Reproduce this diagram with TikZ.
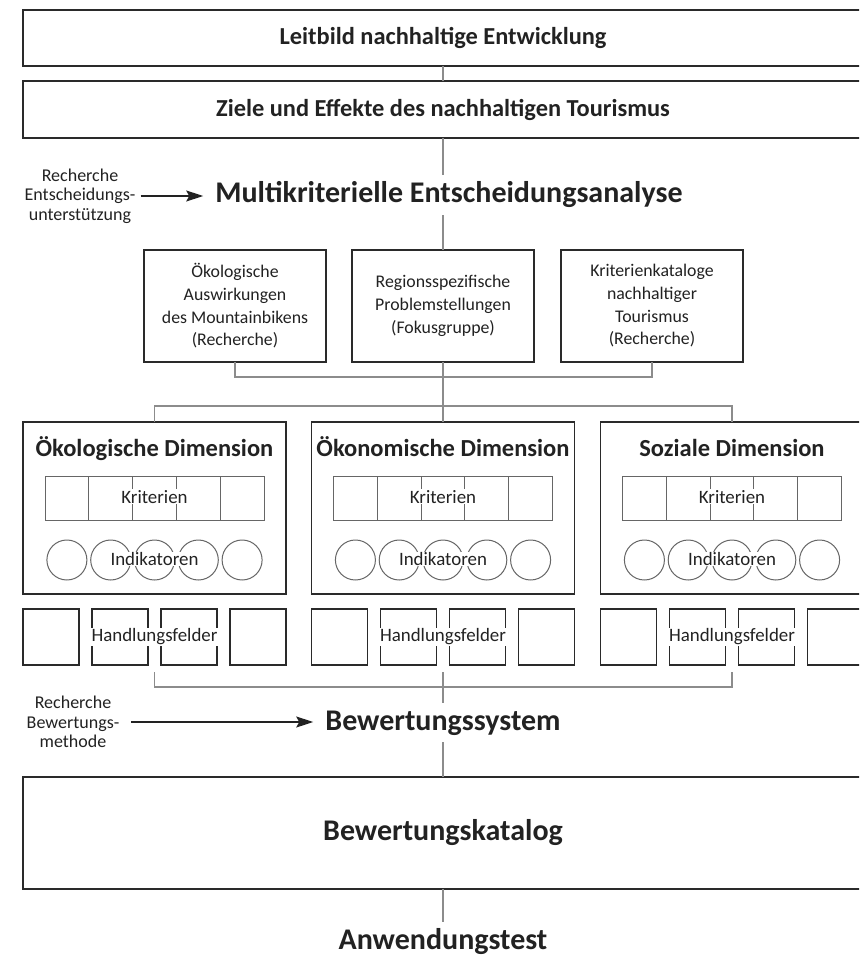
\documentclass[tikz,border=0pt]{standalone}
\usepackage{fontspec}
\setmainfont{Carlito}
\usetikzlibrary{arrows.meta}
\definecolor{ink}{HTML}{222222}
\definecolor{frame}{HTML}{2A2A2A}
\definecolor{conngray}{HTML}{8C8C8C}
\definecolor{cellgray}{HTML}{666666}
\newcommand\topfont{\fontsize{24.4}{28}\selectfont\bfseries}
\newcommand\bigfont{\fontsize{30}{35}\selectfont\bfseries}
\newcommand\dimfont{\fontsize{24.5}{29}\selectfont\bfseries}
\newcommand\regfont{\fontsize{18.9}{22}\selectfont}
\newcommand\boxfont{\fontsize{17.8}{22.7}\selectfont}
\newcommand\sidefont{\fontsize{18}{19.5}\selectfont}
\newcommand\dimblk[3]{%
  \node[box, minimum width=263pt, minimum height=172pt] (#2) at (#1,508) {};
  \node[font=\dimfont, anchor=base, text=ink] (#2t) at (#1,456) {#3};
  \foreach \i/\n in {-2/a,-1/b,0/c,1/d,2/e}{
    \node[cell, minimum width=43.8pt, minimum height=44pt] (#2k\n) at ({#1+\i*43.8},498) {};
    \node[cell, circle, minimum size=40pt] (#2i\n) at ({#1+\i*43.8},560) {};
  }
  \node[lbl] (#2kt) at (#1,503) {Kriterien};
  \node[lbl] (#2it) at (#1,565.5) {Indikatoren};
  \foreach \j/\n in {-1.5/a,-0.5/b,0.5/c,1.5/d}{
    \node[box, minimum size=56pt] (#2h\n) at ({#1+\j*69},637) {};
  }
  \node[lbl] (#2ht) at (#1,641.5) {Handlungsfelder};
}
\begin{document}
\begin{tikzpicture}[x=1pt,y=-1pt,
  box/.style={draw=frame, line width=1.4pt, inner sep=0pt, outer sep=0pt},
  cell/.style={draw=cellgray, line width=1pt, inner sep=0pt, outer sep=0pt},
  lbl/.style={font=\regfont, text=ink, fill=white, inner sep=0.8pt, anchor=base},
  conn/.style={draw=conngray, line width=1.1pt},
  arr/.style={draw=ink, line width=1.2pt, -{Stealth[length=17pt,width=11pt,inset=3pt]}},
  side/.style={font=\sidefont, text=ink, align=center, inner sep=2pt}]
\useasboundingbox (0,0) rectangle (859,957);
\clip (0,0) rectangle (859,957);
\fill[white] (0,0) rectangle (859,957);

% top boxes
\node[box, minimum width=840pt, minimum height=56pt, font=\topfont, text=ink] (leit) at (443,38) {Leitbild nachhaltige Entwicklung};
\node[box, minimum width=840pt, minimum height=57pt, font=\topfont, text=ink] (ziele) at (443,109.5) {Ziele und Effekte des nachhaltigen Tourismus};

% multikriterielle
\node[font=\bigfont, text=ink, anchor=base, inner sep=7pt] (multi) at (449,203) {Multikriterielle Entscheidungsanalyse};
\node[side] (rech1) at (80,196) {Recherche\\Entscheidungs-\\unterstützung};

% three input boxes
\node[box, minimum width=182pt, minimum height=112pt, font=\boxfont, text=ink, align=center] (b1) at (235,306) {Ökologische\\Auswirkungen\\des Mountainbikens\\(Recherche)};
\node[box, minimum width=182pt, minimum height=112pt, font=\boxfont, text=ink, align=center] (b2) at (443,306) {Regionsspezifische\\Problemstellungen\\(Fokusgruppe)};
\node[box, minimum width=182pt, minimum height=112pt, font=\boxfont, text=ink, align=center] (b3) at (652,306) {Kriterienkataloge\\nachhaltiger\\Tourismus\\(Recherche)};

% dimensions
\dimblk{154.5}{dA}{Ökologische Dimension}
\dimblk{443}{dB}{Ökonomische Dimension}
\dimblk{732}{dC}{Soziale Dimension}

\coordinate (hA) at (154.5,672);
\coordinate (hB) at (443,672);
\coordinate (hC) at (732,672);

% bewertung
\node[font=\bigfont, text=ink, anchor=base, inner sep=7pt] (bsys) at (443,730) {Bewertungssystem};
\node[side] (rech2) at (73,722) {Recherche\\Bewertungs-\\methode};
\node[box, minimum width=840pt, minimum height=112pt, font=\bigfont, text=ink] (kat) at (443,833) {Bewertungskatalog};
\node[font=\bigfont, text=ink, anchor=base, inner sep=1pt] (anw) at (443,949) {Anwendungstest};

% connectors
\draw[conn] (leit.south) -- (ziele.north);
\draw[conn] (ziele.south) -- (ziele.south |- multi.north);
\draw[conn] (b2.north |- multi.south) -- (b2.north);
\draw[conn] (b1.south) -- ++(0,15) -| (b3.south);
\draw[conn] (b2.south) -- (dB.north);
\draw[conn] (dA.north) -- ++(0,-16) -| (dC.north);
\draw[conn] (hA) -- ++(0,15) -| (hC);
\draw[conn] (hB) -- (bsys.north);
\draw[conn] (bsys.south) -- (kat.north);
\draw[conn, shorten >=5pt] (kat.south) -- (anw.north);

% arrows
\draw[arr, shorten <=3pt, shorten >=5pt] (rech1.east) -- (rech1.east -| multi.west);
\draw[arr, shorten <=10pt, shorten >=5pt] (rech2.east) -- (rech2.east -| bsys.west);
\end{tikzpicture}
\end{document}
